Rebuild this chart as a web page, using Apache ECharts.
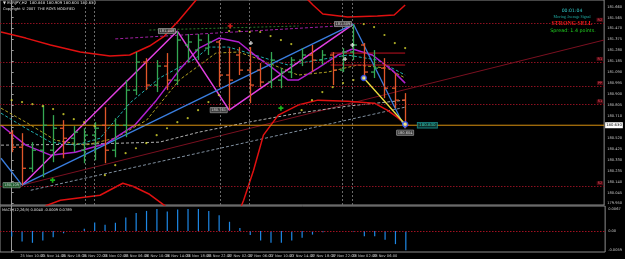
<!DOCTYPE html>
<html><head><meta charset="utf-8">
<script src="https://cdn.jsdelivr.net/npm/echarts@6/dist/echarts.min.js"></script>
<style>html,body{margin:0;padding:0;background:#000;}#c{width:625px;height:259px;}</style>
</head><body><div id="c"></div>
<script>
// ---- data ----
const timeLabels = ["25.11.2025","25 Nov 10:00","25 Nov 14:00","25 Nov 18:00","25 Nov 22:00","26 Nov 02:00","26 Nov 06:00","26 Nov 10:00","26 Nov 14:00","26 Nov 18:00","26 Nov 22:00","27 Nov 02:00","27 Nov 06:00","27 Nov 10:00","27 Nov 14:00","27 Nov 18:00","27 Nov 22:00","28 Nov 02:00","28 Nov 06:00","28 Nov 10:00"];
const openP  = [180.561,180.439,180.256,180.413,180.413,180.604,180.517,180.413,180.544,180.630,180.413,180.630,180.935,181.179,180.979,181.144,181.022,181.327,181.283,181.300,181.353,181.066,181.240,181.109,181.109,181.005,181.022,181.092,181.196,181.240,181.196,181.240,181.109,181.266,181.327,181.092,181.126,180.952,180.848];
const highP  = [180.587,180.561,180.483,180.805,180.718,180.674,180.622,180.604,180.657,180.787,180.691,181.022,181.266,181.213,181.196,181.257,181.448,181.422,181.422,181.422,181.370,181.300,181.309,181.309,181.170,181.266,181.126,181.222,181.300,181.327,181.283,181.266,181.300,181.509,181.344,181.283,181.213,181.083,180.909];
const lowP   = [180.396,180.109,180.222,180.178,180.309,180.343,180.396,180.300,180.326,180.300,180.352,180.526,180.892,180.935,180.918,180.935,180.979,181.179,181.196,181.240,180.961,180.761,181.066,180.822,180.961,180.952,180.952,181.040,181.144,181.092,181.153,180.979,181.092,181.196,181.040,181.040,180.865,180.778,180.604];
const closeP = [180.439,180.256,180.413,180.630,180.604,180.517,180.570,180.544,180.604,180.413,180.630,180.935,181.179,180.979,181.144,181.022,181.370,181.353,181.370,181.353,181.066,181.022,181.109,180.979,181.005,181.196,181.092,181.196,181.240,181.196,181.240,181.109,181.266,181.327,181.092,181.126,180.952,180.848,180.630];
const macdHist = [-0.0017,-0.0032,-0.0036,-0.0029,-0.0019,-0.0007,-0.0001,0.0007,0.0026,0.0019,0.0025,0.0041,0.0055,0.0061,0.0067,0.0059,0.0065,0.0067,0.0067,0.0061,0.0048,0.0028,0.0009,-0.0012,-0.0029,-0.0036,-0.0036,-0.0029,-0.0021,-0.0011,-0.0004,0.0000,0.0000,-0.0002,-0.0016,-0.0016,-0.0027,-0.0040,-0.0059];
const psar = [180.848,180.831,180.813,180.796,180.770,180.726,180.683,180.657,180.622,180.196,180.283,180.387,180.430,180.474,180.544,180.604,180.657,180.691,180.761,180.831,180.892,181.448,181.448,181.440,181.440,181.405,181.370,181.335,180.761,180.848,180.918,180.961,180.996,181.022,181.509,181.483,181.414,181.344,181.300];
const priceTicks = [181.660,181.565,181.470,181.375,181.280,181.185,181.090,180.995,180.900,180.805,180.710,180.615,180.520,180.425,180.330,180.235,180.140,180.045,179.950];
const macdTicks = [0.0067,0,-0.0059];
const currentPrice = 180.630;
const pivotLevels = [181.518,181.179,180.970,180.805,180.105];
const pivotNames = ["R2","R1","PP","S1","S2"];
const zigzag = [[1,180.109],[16,181.448],[21,180.761],[33,181.509]];
const blueLegs = [[[-1.03,180.343],[1,180.109]],[[1,180.109],[33,181.509]],[[33,181.509],[38,180.604]]];
const yellowLeg = [[34,181.040],[38,180.639]];
const upperBand = [[-1.03,181.440],[1.36,181.387],[3.75,181.327],[6.62,181.266],[9.49,181.231],[11.40,181.240],[13.31,181.318],[14.75,181.405],[16.18,181.544],[17.81,181.718],[19.53,181.909],[22.88,182.066],[26.22,181.979],[28.14,181.762],[29.10,181.675],[30.05,181.596],[32.44,181.570],[35.31,181.579],[36.94,181.588],[38,181.674]];
const lowerBand = [[-1.03,179.630],[1.36,179.734],[3.37,179.934],[4.71,179.978],[8.53,180.022],[10.73,180.126],[11.69,180.100],[13.31,180.030],[14.75,179.934],[17.14,179.734],[19.53,179.647],[21.44,179.760],[22.40,179.978],[23.36,180.239],[24.31,180.544],[25.75,180.718],[27.66,180.805],[29.57,180.848],[32.44,180.839],[35.02,180.822],[36.27,180.761],[37.22,180.700],[38,180.639]];
const purpleMA = [[-1.03,180.630],[1.36,180.457],[3.75,180.370],[6.14,180.396],[9.20,180.474],[11.88,180.630],[13.98,180.848],[16.18,181.109],[18.10,181.300],[20.01,181.387],[21.92,181.353],[23.84,181.213],[25.08,181.135],[26.70,181.022],[27.66,181.022],[29.57,181.126],[31.49,181.240],[32.92,181.292],[34.83,181.240],[36.74,181.109],[38,180.996]];
const tealMA = [[-1.03,180.735],[1.36,180.604],[3.75,180.483],[6.14,180.457],[8.53,180.517],[11.40,180.822],[14.27,181.040],[17.81,181.213],[19.05,181.309],[20.97,181.309],[24.12,181.222],[26.70,181.153],[29.57,181.196],[32.44,181.240],[35.31,181.196],[38,181.066]];
const oliveMA = [[-1.03,180.778],[1.36,180.657],[4.23,180.500],[7.10,180.457],[9.97,180.517],[13.03,180.674],[16.18,181.022],[19.72,181.257],[21.92,181.266],[24.12,181.196],[27.66,181.066],[30.53,181.092],[33.40,181.153],[36.27,181.126],[38,181.040]];
const grayMA = [[-1.03,180.457],[6.62,180.465],[14.27,180.483],[18.10,180.570],[22.88,180.657],[27.66,180.735],[32.44,180.796],[38,180.848]];
const grayTrend = [[1.84,180.065],[38,180.787]];
const redTrend = [[1,180.109],[57.2,181.370]];
const purpleRes = [[10,181.380],[33,181.500]];
const greenDash = [[13.3,181.457],[27.7,181.492]];
const boxLines = [[[30.8,181.257],[38,181.257]],[[30.8,181.153],[38,181.153]]];
const dayLines = [7.1,7.96,20.1,22.98,31.96,32.92];
const zzLabels = [[1,180.109,'left','#1f6b34'],[16,181.448,'left','#505050'],[21,180.761,'left','#505050'],[33,181.509,'left','#505050'],[38,180.604,'bottom','#505050']];
const redCross = [[21.1,181.492]];
const greenCross = [[3.95,180.153],[26.0,180.778]];
const whiteCross = [[23.1,181.344],[32.9,181.327],[32.2,181.205]];

// ---- chart ----
const X_MIN = -1.1286, X_MAX = 57.216;
const chart = echarts.init(document.getElementById('c'), null, {renderer:'canvas'});
const FONT = 'DejaVu Sans';
const ohlc = openP.map((o,i)=>[i,o,highP[i],lowP[i],closeP[i]]);
const labelIdx = timeLabels.map((t,k)=>k*2);
const plus = 'path://M-1,-3H1V-1H3V1H1V3H-1V1H-3V-1H-1Z';
function lineS(data, color, width, type, z){
  return {type:'line', xAxisIndex:0, yAxisIndex:0, data, showSymbol:false, symbol:'none', silent:true, z:z||3,
    lineStyle:{color, width, type:type||'solid'}, clip:true, animation:false};
}
const series = [];
// day separators
series.push({type:'line', xAxisIndex:0, yAxisIndex:0, data:[], silent:true, animation:false,
  markLine:{symbol:'none', silent:true, animation:false, lineStyle:{color:'#6a6a6a', type:[2,2], width:1}, label:{show:false},
    data: dayLines.map(v=>({xAxis:v}))}});
// pivots
series.push({type:'line', xAxisIndex:0, yAxisIndex:0, data:[], silent:true, animation:false,
  markLine:{symbol:'none', silent:true, animation:false, lineStyle:{color:'#8c1020', type:[1.5,1.5], width:1},
    label:{show:true, position:'insideEndTop', color:'#ff5060', fontSize:3.5, fontFamily:FONT, backgroundColor:'#4a0810', padding:[0,1], distance:1},
    data: pivotLevels.map((v,k)=>({yAxis:v, label:{formatter:pivotNames[k]}}))}});
// current price line (orange) across the pane
series.push({type:'line', xAxisIndex:0, yAxisIndex:0, data:[[X_MIN,currentPrice],[X_MAX,currentPrice]], showSymbol:false, symbol:'none',
  silent:true, animation:false, z:6, lineStyle:{color:'#d89010', width:1, type:'solid'},
  endLabel:{show:true, formatter:currentPrice.toFixed(3), color:'#000', backgroundColor:'#ffffff', fontSize:3.8, fontFamily:FONT, padding:[1,1], distance:1}});
series.push(lineS(redTrend,'#7a1020',1));
series.push(lineS(grayMA,'#b0b0b0',1,[3,2]));
series.push(lineS(grayTrend,'#8090a0',1,[3,2]));
series.push(lineS(upperBand,'#e01010',1.5,'solid',4));
series.push(lineS(lowerBand,'#e01010',1.5,'solid',4));
series.push(lineS(oliveMA,'#b0a020',1,[3,2]));
series.push(lineS(tealMA,'#20b0b0',1,[3,2]));
series.push(lineS(greenDash,'#2a7a2a',1,[2,2]));
series.push(lineS(purpleRes,'#a020a0',1,[3,2]));
series.push(lineS(purpleMA,'#b020d0',1.5));
boxLines.forEach(b=>series.push(lineS(b,'#c01020',1)));
series.push(lineS(zigzag,'#e040e0',1.5,'solid',5));
blueLegs.forEach(b=>series.push(lineS(b,'#3a7ee0',1.3,'solid',5)));
series.push(lineS(yellowLeg,'#f0e040',1.3,'solid',6));
// OHLC bars
series.push({type:'custom', xAxisIndex:0, yAxisIndex:0, data:ohlc, z:7, silent:true, animation:false,
  renderItem:function(params, api){
    const i = api.value(0);
    const o = api.coord([i, api.value(1)]);
    const h = api.coord([i, api.value(2)]);
    const l = api.coord([i, api.value(3)]);
    const c = api.coord([i, api.value(4)]);
    const up = api.value(4) >= api.value(1);
    const col = up ? '#34a853' : '#e0562a';
    const x = Math.round(o[0]) + 0.5;
    return {type:'group', children:[
      {type:'line', shape:{x1:x,y1:h[1],x2:x,y2:l[1]}, style:{stroke:col,lineWidth:1.3}},
      {type:'line', shape:{x1:x-3.5,y1:o[1],x2:x,y2:o[1]}, style:{stroke:col,lineWidth:1.3}},
      {type:'line', shape:{x1:x,y1:c[1],x2:x+3.5,y2:c[1]}, style:{stroke:col,lineWidth:1.3}}
    ]};
  }});
// PSAR dots
series.push({type:'scatter', xAxisIndex:0, yAxisIndex:0, data:psar.map((v,i)=>[i,v]), symbolSize:2.2, z:8,
  itemStyle:{color:'#d8d830'}, silent:true, animation:false});
// markers
series.push({type:'scatter', xAxisIndex:0, yAxisIndex:0, data:redCross, symbol:plus, symbolSize:5, z:9, itemStyle:{color:'#ff2020'}, silent:true, animation:false});
series.push({type:'scatter', xAxisIndex:0, yAxisIndex:0, data:greenCross, symbol:plus, symbolSize:5, z:9, itemStyle:{color:'#20e020'}, silent:true, animation:false});
series.push({type:'scatter', xAxisIndex:0, yAxisIndex:0, data:whiteCross, symbol:plus, symbolSize:4, z:9, itemStyle:{color:'#ffffff'}, silent:true, animation:false});
series.push({type:'scatter', xAxisIndex:0, yAxisIndex:0, data:yellowLeg, symbol:'circle', symbolSize:5, z:10,
  itemStyle:{color:'#ffff90', borderColor:'#2848ff', borderWidth:1.5}, silent:true, animation:false});
// zigzag price labels
series.push({type:'scatter', xAxisIndex:0, yAxisIndex:0, symbolSize:0, z:11, silent:true, animation:false,
  data: zzLabels.map(d=>({value:[d[0],d[1]], label:{position:d[2], backgroundColor:d[3]}})),
  label:{show:true, formatter:p=>p.value[1].toFixed(3), color:'#f0f0f0', fontSize:3.6, fontFamily:FONT, borderColor:'#c0c0c0', borderWidth:0.5, padding:[0.5,1], distance:2}});
// current price tag near last bar
series.push({type:'scatter', xAxisIndex:0, yAxisIndex:0, symbolSize:0, z:11, silent:true, animation:false,
  data:[[39.2,currentPrice]],
  label:{show:true, position:'right', formatter:currentPrice.toFixed(3), color:'#30e0d0', backgroundColor:'#0a3a3a', borderColor:'#20a8a0', borderWidth:0.7, fontSize:4, fontFamily:FONT, padding:[0.5,1.5], distance:0}});
// MACD histogram
series.push({type:'bar', xAxisIndex:1, yAxisIndex:1, data:macdHist.map((v,i)=>[i,v]), barWidth:1.2,
  itemStyle:{color:'#1e88e5'}, silent:true, animation:false,
  markLine:{symbol:'none', silent:true, animation:false, data:[{yAxis:0}], lineStyle:{color:'#a01020', type:[1.5,1.5], width:1}, label:{show:false}}});

const option = {
  backgroundColor:'#000000',
  animation:false,
  grid:[
    {left:-1, top:-1, width:610, height:206, show:true, borderColor:'#8c8c8c', borderWidth:1, containLabel:false},
    {left:-1, top:206, width:610, height:46, show:true, borderColor:'#8c8c8c', borderWidth:1, containLabel:false}
  ],
  xAxis:[
    {gridIndex:0, type:'value', min:X_MIN, max:X_MAX, show:false},
    {gridIndex:1, type:'value', min:X_MIN, max:X_MAX, axisLine:{show:false}, axisTick:{show:false}, splitLine:{show:false},
      axisLabel:{customValues:labelIdx, formatter:v=>timeLabels[Math.round(v/2)]||'', fontSize:3.6, fontFamily:FONT, color:'#c8c8c8', margin:2}}
  ],
  yAxis:[
    {gridIndex:0, type:'value', position:'right', min:179.937, max:181.718, splitLine:{show:false},
      axisLine:{show:true, lineStyle:{color:'#9a9a9a'}},
      axisTick:{show:true, length:2, customValues:priceTicks, lineStyle:{color:'#9a9a9a'}},
      axisLabel:{customValues:priceTicks, formatter:v=>v.toFixed(3), fontSize:3.6, fontFamily:FONT, color:'#c8c8c8', margin:3}},
    {gridIndex:1, type:'value', position:'right', min:-0.0064, max:0.0076, splitLine:{show:false},
      axisLine:{show:true, lineStyle:{color:'#9a9a9a'}},
      axisTick:{show:true, length:2, customValues:macdTicks, lineStyle:{color:'#9a9a9a'}},
      axisLabel:{customValues:macdTicks, formatter:v=>v===0?'0.00':v.toFixed(4), fontSize:3.6, fontFamily:FONT, color:'#c8c8c8', margin:3}}
  ],
  graphic:[
    {type:'text', left:3, top:1.5, style:{text:'\u25BC EURJPY,H2  '+openP[38].toFixed(3)+' '+highP[38].toFixed(3)+' '+lowP[38].toFixed(3)+' '+closeP[38].toFixed(3), fill:'#e0e0e0', fontSize:3.8, fontFamily:FONT}},
    {type:'text', left:3, top:7, style:{text:'Copyright \u00A9 2007  THE ROYS MODIFIED', fill:'#e0e0e0', fontSize:3.6, fontFamily:FONT}},
    {type:'text', left:2, top:208, style:{text:'MACD(12,26,9) 0.0040 -0.0009 0.0789', fill:'#e0e0e0', fontSize:3.6, fontFamily:FONT}},
    {type:'text', x:572, y:11, style:{text:'00:01:04', fill:'#30c8c8', fontSize:4.6, fontFamily:FONT, textAlign:'center', textVerticalAlign:'middle'}},
    {type:'text', x:572, y:16.5, style:{text:'Moving Average Signal', fill:'#20b2aa', fontSize:3.9, fontFamily:'Liberation Serif', textAlign:'center', textVerticalAlign:'middle'}},
    {type:'text', x:572, y:24, style:{text:'STRONG SELL', fill:'#ff1a1a', fontSize:5.8, fontWeight:'bold', fontFamily:'Liberation Serif', textAlign:'center', textVerticalAlign:'middle'}},
    {type:'text', x:573, y:30.5, style:{text:'Spread: 1.4 points.', fill:'#20d020', fontSize:4.8, fontFamily:FONT, textAlign:'center', textVerticalAlign:'middle'}}
  ],
  series
};
chart.setOption(option);
</script></body></html>
